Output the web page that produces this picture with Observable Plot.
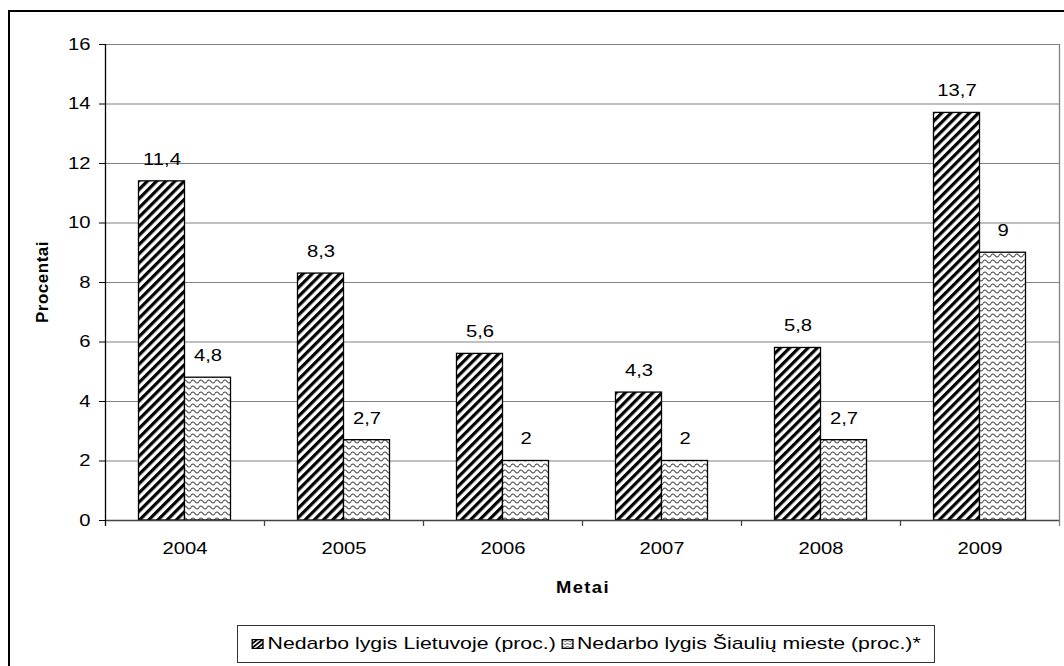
<!DOCTYPE html>
<html>
<head>
<meta charset="utf-8">
<script src="https://cdn.jsdelivr.net/npm/d3@7"></script>
<script src="https://cdn.jsdelivr.net/npm/@observablehq/plot@0.6"></script>
<style>
  html, body { margin: 0; padding: 0; background: #fff; overflow: hidden; }
  body { width: 1064px; height: 666px; position: relative; font-family: "Liberation Sans", Arial, sans-serif; }
  #frame { position: absolute; left: 8px; top: 10px; width: 1100px; height: 700px; border: 2px solid #000; box-sizing: border-box; }
  #chart { position: absolute; left: 0; top: 0; }
  .ytitle { position: absolute; left: 43px; top: 282px; transform: translate(-50%, -50%) rotate(-90deg); font-weight: bold; font-size: 17px; letter-spacing: 0.5px; white-space: nowrap; }
  .xtitle { position: absolute; left: 583px; top: 588px; transform: translate(-50%, -50%) scaleX(1.15); font-weight: bold; font-size: 16px; letter-spacing: 1.2px; white-space: nowrap; }
  #legend { position: absolute; left: 237px; top: 625px; width: 698px; height: 38px; border: 1px solid #333; box-sizing: border-box; overflow: hidden; }
  #legend .inner { position: absolute; left: 50%; top: 50%; transform: translate(-50%, -50%) scaleX(1.25); display: flex; align-items: center; font-size: 17px; white-space: nowrap; }
  #legend .item { display: flex; align-items: center; margin: 0 2px; }
  #legend svg { margin-right: 3px; }
</style>
</head>
<body>
<svg width="0" height="0" style="position:absolute">
  <defs>
    <pattern id="hatch" patternUnits="userSpaceOnUse" width="6.5" height="6.5" patternTransform="rotate(45)">
      <rect width="6.5" height="6.5" fill="#fff"></rect>
      <rect x="0" y="0" width="3.2" height="6.5" fill="#000"></rect>
    </pattern>
    <pattern id="hatchS" patternUnits="userSpaceOnUse" width="3" height="3" patternTransform="rotate(45)">
      <rect width="3" height="3" fill="#fff"></rect>
      <rect x="0" y="0" width="1.6" height="3" fill="#000"></rect>
    </pattern>
    <pattern id="wave" patternUnits="userSpaceOnUse" width="8" height="6">
      <rect width="8" height="6" fill="#fff"></rect>
      <path d="M0,3.5 Q2,0.5 4,3.5 T8,3.5" stroke="#444" stroke-width="1.2" fill="none"></path>
    </pattern>
    <pattern id="waveS" patternUnits="userSpaceOnUse" width="4" height="3">
      <rect width="4" height="3" fill="#fff"></rect>
      <path d="M0,2 Q1,0.5 2,2 T4,2" stroke="#444" stroke-width="0.8" fill="none"></path>
    </pattern>
  </defs>
</svg>
<div id="frame"></div>
<div id="chart"></div>
<div class="ytitle">Procentai</div>
<div class="xtitle">Metai</div>
<div id="legend"><div class="inner"></div></div>
<script>
const years = ["2004", "2005", "2006", "2007", "2008", "2009"];
const lietuva = [11.4, 8.3, 5.6, 4.3, 5.8, 13.7];
const siauliai = [4.8, 2.7, 2, 2, 2.7, 9];
const seriesNames = ["Nedarbo lygis Lietuvoje (proc.)", "Nedarbo lygis Šiaulių mieste (proc.)*"];
const yTicks = [0, 2, 4, 6, 8, 10, 12, 14, 16];

const rowsL = years.map((year, i) => ({year, value: lietuva[i]}));
const rowsS = years.map((year, i) => ({year, value: siauliai[i]}));
const fmt = d => String(d.value).replace(".", ",");

const W = 1064, H = 620;
const mL = 105, mR = 5, mT = 44, mB = 100;
const band = (W - mL - mR) / years.length;
const barW = 46;
const inset = (band - barW) / 2;
const stretch = 1.19;

const chart = Plot.plot({
  width: W,
  height: H,
  marginLeft: mL,
  marginRight: mR,
  marginTop: mT,
  marginBottom: mB,
  style: {fontFamily: "'Liberation Sans', Arial, sans-serif", fontSize: "17px", color: "#000", background: "transparent"},
  x: {type: "band", domain: years, padding: 0, tickSize: 0, tickPadding: 21, label: null},
  y: {domain: [0, 16], ticks: yTicks, tickSize: 6, tickPadding: 9, tickFormat: d => String(d), label: null},
  marks: [
    Plot.ruleY(yTicks, {y: d => d, stroke: "#808080", strokeWidth: 1}),
    Plot.frame({stroke: "#808080", strokeWidth: 1}),
    Plot.barY(rowsL, {x: "year", y: "value", fill: "url(#hatch)", stroke: "#000", strokeWidth: 1.3, insetLeft: inset, insetRight: inset, dx: -barW / 2}),
    Plot.barY(rowsS, {x: "year", y: "value", fill: "url(#wave)", stroke: "#000", strokeWidth: 1.3, insetLeft: inset, insetRight: inset, dx: barW / 2}),
    Plot.ruleY([0], {y: d => d, stroke: "#444", strokeWidth: 1.3}),
    Plot.ruleX(years.slice(1), {x: d => d, y1: 0, y2: -0.2, dx: -band / 2, stroke: "#444", strokeWidth: 1.3}),
    Plot.ruleX(years.slice(-1), {x: d => d, y1: 16, y2: -0.2, dx: band / 2, stroke: "#808080", strokeWidth: 1.3}),
    Plot.ruleX(years.slice(0, 1), {x: d => d, y1: 16, y2: -0.2, dx: -band / 2, stroke: "#000", strokeWidth: 1.3}),
    Plot.text(rowsL, {x: "year", y: "value", text: fmt, dx: -barW / 2, dy: -22, fontSize: 17, fill: "#000"}),
    Plot.text(rowsS, {x: "year", y: "value", text: fmt, dx: barW / 2, dy: -22, fontSize: 17, fill: "#000"})
  ]
});
// widen the glyphs horizontally, like the stretched original
chart.querySelectorAll("text").forEach(t => {
  const tr = t.getAttribute("transform") || "";
  t.setAttribute("transform", (tr + ` scale(${stretch},1)`).trim());
  const x = t.getAttribute("x");
  if (x !== null && x !== "") t.setAttribute("x", parseFloat(x) / stretch);
});
document.getElementById("chart").appendChild(chart);

const inner = document.querySelector("#legend .inner");
const fills = ["url(#hatchS)", "url(#waveS)"];
seriesNames.forEach((name, i) => {
  const item = document.createElement("div");
  item.className = "item";
  item.innerHTML = `<svg width="10" height="10"><rect x="0.6" y="0.6" width="8.8" height="8.8" fill="${fills[i]}" stroke="#000" stroke-width="1.2"></rect></svg><span>${name}</span>`;
  inner.appendChild(item);
});
</script>
</body>
</html>
